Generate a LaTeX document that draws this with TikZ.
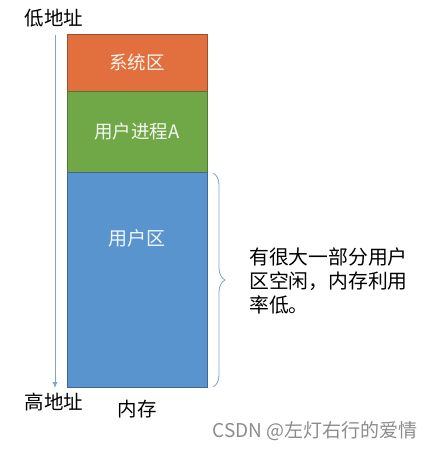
\documentclass[tikz,border=0pt]{standalone}
\usepackage{fontspec}
\newfontfamily\cjk{Noto Sans CJK SC}
\usetikzlibrary{arrows.meta,decorations.pathreplacing}
\definecolor{sysorange}{HTML}{E2703E}
\definecolor{procgreen}{HTML}{71A847}
\definecolor{userblue}{HTML}{5A94CF}
\definecolor{axisblue}{HTML}{7EA3CC}
\begin{document}
\begin{tikzpicture}[x=1pt,y=-1pt,
	block/.style={draw=#1!70!black, fill=#1, line width=0.6pt, minimum width=140pt, inner sep=0pt, outer sep=0pt, text=white!92!#1, font=\cjk\fontsize{18.5}{22}\selectfont},
	word/.style={inner sep=0pt, font=\cjk\fontsize{19.5}{22}\selectfont}]
	\useasboundingbox (0,0) rectangle (433,449);
	% memory blocks
	\node[block=sysorange, minimum height=57pt, anchor=north west] (sys) at (67,34) {系统区};
	\node[block=procgreen, minimum height=81pt, anchor=north] (proc) at (sys.south) {用户进程A};
	\node[block=userblue, minimum height=215pt, anchor=north] (user) at (proc.south) {};
	\node[word, text=white!92!userblue, font=\cjk\fontsize{19}{22}\selectfont] (userlabel) at ([yshift=41pt]user.center) {用户区};
	% address axis
	\coordinate (low) at (55,35);
	\coordinate (high) at (55,388);
	\draw[axisblue, line width=0.8pt, -{Latex[length=6pt,width=5pt]}] (low) -- (high);
	\node[word] (lowaddr) at (54,18) {低地址};
	\node[word] (highaddr) at (54,402) {高地址};
	\node[word] (mem) at (137,409) {内存};
	% brace and note
	\draw[axisblue, line width=0.8pt, decorate, decoration={brace, amplitude=12pt, aspect=0.5}]
	(213,173) -- (213,387);
	\node[word, anchor=west, align=left, font=\cjk\fontsize{19.8}{24}\selectfont] (note) at (249,281) {有很大一部分用户\\区空闲，内存利用\\率低。};
	\node[word, text=black!45, anchor=east, font=\cjk\fontsize{19}{22}\selectfont] (mark) at (418,431) {CSDN @左灯右行的爱情};
\end{tikzpicture}
\end{document}
